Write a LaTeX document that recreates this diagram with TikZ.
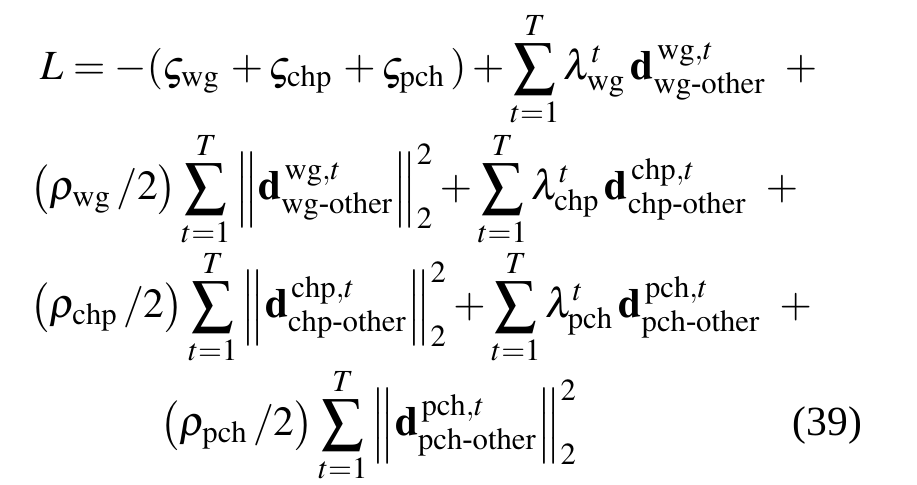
\documentclass[tikz,border=0pt]{standalone}
\usepackage{amsmath,amssymb}
\usepackage{mathptmx}
\usepackage[no-math]{fontspec}
\setmainfont{Liberation Serif}
\tikzset{row/.style={anchor=base west, inner sep=0pt, font=\fontsize{11.8}{14}\selectfont}}
\newcommand{\dd}[2]{\mathbf{d}^{\,\mathrm{#1},t}_{\mathrm{#2\text{-}other}}}
\begin{document}
\begin{tikzpicture}[x=0.01cm, y=-0.01cm]
  \useasboundingbox (0,0) rectangle (917,485);
  % rows of the equation
  \node[row] (r1) at (40,80) {$L=-(\varsigma_{\mathrm{wg}}\,+\varsigma_{\mathrm{chp}}\,+\varsigma_{\mathrm{pch}}\,)+\displaystyle\sum_{t=1}^{T}\lambda^{t}_{\mathrm{wg}}\,\dd{wg}{wg}\;\;+$};
  \node[row] (r2) at (30,200) {$\displaystyle\left(\rho_{\mathrm{wg}}\,/2\right)\sum_{t=1}^{T}\left\|\dd{wg}{wg}\right\|_2^2+\sum_{t=1}^{T}\lambda^{t}_{\mathrm{chp}}\,\dd{chp}{chp}\;\;+$};
  \node[row] (r3) at (30,318) {$\displaystyle\left(\rho_{\mathrm{chp}}\,/2\right)\sum_{t=1}^{T}\left\|\dd{chp}{chp}\right\|_2^2+\sum_{t=1}^{T}\lambda^{t}_{\mathrm{pch}}\,\dd{pch}{pch}\;\;+$};
  \node[row] (r4) at (160,436) {$\displaystyle\left(\rho_{\mathrm{pch}}\,/2\right)\sum_{t=1}^{T}\left\|\dd{pch}{pch}\right\|_2^2$};
  \node[row] (num) at (792,436) {(39)};
\end{tikzpicture}
\end{document}
